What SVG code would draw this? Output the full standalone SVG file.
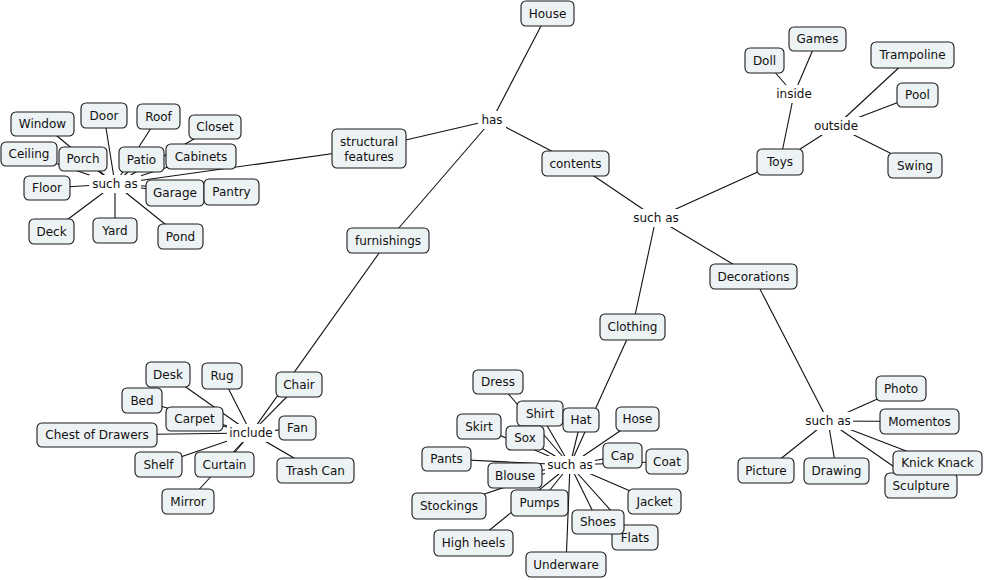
<svg xmlns="http://www.w3.org/2000/svg" width="985" height="580" viewBox="0 0 985 580">
<style>
  .n rect { fill: #edf2f4; stroke: #1a1a1a; stroke-width: 1.1; }
  text { font-family: "DejaVu Sans", Verdana, sans-serif; font-size: 12px; fill: #111; text-anchor: middle; }
  .lb rect { fill: #ffffff; stroke: none; }
  #connectors line { stroke: #111; stroke-width: 1.1; }
</style>
<rect x="0" y="0" width="985" height="580" fill="#ffffff"/>
<g id="connectors">
  <!-- has -->
  <line x1="492" y1="120" x2="547.5" y2="13.5"/>
  <line x1="492" y1="120" x2="369" y2="148.5"/>
  <line x1="492" y1="120" x2="575.5" y2="163.5"/>
  <line x1="492" y1="120" x2="388" y2="240.5"/>
  <!-- structural such as -->
  <line x1="115" y1="184" x2="369" y2="148.5"/>
  <line x1="115" y1="184" x2="42.5" y2="124"/>
  <line x1="115" y1="184" x2="104" y2="115.5"/>
  <line x1="115" y1="184" x2="158.5" y2="116.5"/>
  <line x1="115" y1="184" x2="215" y2="127"/>
  <line x1="115" y1="184" x2="29" y2="154"/>
  <line x1="115" y1="184" x2="83" y2="159"/>
  <line x1="115" y1="184" x2="141.5" y2="159.5"/>
  <line x1="115" y1="184" x2="201" y2="156.5"/>
  <line x1="115" y1="184" x2="47" y2="188"/>
  <line x1="115" y1="184" x2="175" y2="193"/>
  <line x1="115" y1="184" x2="231.5" y2="192"/>
  <line x1="115" y1="184" x2="51.5" y2="231.5"/>
  <line x1="115" y1="184" x2="115" y2="230.5"/>
  <line x1="115" y1="184" x2="180.5" y2="236.5"/>
  <!-- contents such as -->
  <line x1="656" y1="218" x2="575.5" y2="163.5"/>
  <line x1="656" y1="218" x2="780" y2="162"/>
  <line x1="656" y1="218" x2="753.5" y2="276.5"/>
  <line x1="656" y1="218" x2="632.5" y2="327"/>
  <!-- inside -->
  <line x1="794" y1="94" x2="780" y2="162"/>
  <line x1="794" y1="94" x2="817.5" y2="39"/>
  <line x1="794" y1="94" x2="764.5" y2="60.5"/>
  <!-- outside -->
  <line x1="836" y1="126" x2="780" y2="162"/>
  <line x1="836" y1="126" x2="912.5" y2="55"/>
  <line x1="836" y1="126" x2="917.5" y2="95"/>
  <line x1="836" y1="126" x2="915" y2="165.5"/>
  <!-- include -->
  <line x1="251" y1="433" x2="388" y2="240.5"/>
  <line x1="251" y1="433" x2="299" y2="384.5"/>
  <line x1="251" y1="433" x2="168" y2="374.5"/>
  <line x1="251" y1="433" x2="222" y2="376"/>
  <line x1="251" y1="433" x2="142" y2="400.5"/>
  <line x1="251" y1="433" x2="194.5" y2="419"/>
  <line x1="251" y1="433" x2="97" y2="435"/>
  <line x1="251" y1="433" x2="297.5" y2="428"/>
  <line x1="251" y1="433" x2="158.5" y2="464.5"/>
  <line x1="251" y1="433" x2="224.5" y2="464.5"/>
  <line x1="251" y1="433" x2="315.5" y2="470.5"/>
  <line x1="251" y1="433" x2="188" y2="501.5"/>
  <!-- clothing such as -->
  <line x1="570" y1="465" x2="632.5" y2="327"/>
  <line x1="570" y1="465" x2="498" y2="382"/>
  <line x1="570" y1="465" x2="540" y2="413.5"/>
  <line x1="570" y1="465" x2="581" y2="420"/>
  <line x1="570" y1="465" x2="637.5" y2="419"/>
  <line x1="570" y1="465" x2="479" y2="426.5"/>
  <line x1="570" y1="465" x2="525" y2="438"/>
  <line x1="570" y1="465" x2="446.5" y2="459"/>
  <line x1="570" y1="465" x2="622.5" y2="455.5"/>
  <line x1="570" y1="465" x2="667" y2="461.5"/>
  <line x1="570" y1="465" x2="515" y2="475.5"/>
  <line x1="570" y1="465" x2="449" y2="506"/>
  <line x1="570" y1="465" x2="539.5" y2="503"/>
  <line x1="570" y1="465" x2="654.5" y2="501.5"/>
  <line x1="570" y1="465" x2="598" y2="522"/>
  <line x1="570" y1="465" x2="635" y2="537.5"/>
  <line x1="570" y1="465" x2="473.5" y2="543"/>
  <line x1="570" y1="465" x2="566" y2="564.5"/>
  <!-- decorations such as -->
  <line x1="828" y1="421" x2="753.5" y2="276.5"/>
  <line x1="828" y1="421" x2="901" y2="388.5"/>
  <line x1="828" y1="421" x2="919.5" y2="421.5"/>
  <line x1="828" y1="421" x2="937.5" y2="463"/>
  <line x1="828" y1="421" x2="921" y2="485.5"/>
  <line x1="828" y1="421" x2="766" y2="470.5"/>
  <line x1="828" y1="421" x2="836.5" y2="471"/>
</g>

<!-- linking phrases -->
<g id="lbl-has" class="lb"><rect x="478" y="111" width="28" height="18"/><text x="492" y="124">has</text></g>
<g id="lbl-suchas-structure" class="lb"><rect x="89" y="175" width="52" height="18"/><text x="115" y="188">such as</text></g>
<g id="lbl-suchas-contents" class="lb"><rect x="630" y="209" width="52" height="18"/><text x="656" y="222">such as</text></g>
<g id="lbl-inside" class="lb"><rect x="773" y="85" width="42" height="18"/><text x="794" y="98">inside</text></g>
<g id="lbl-outside" class="lb"><rect x="811" y="117" width="50" height="18"/><text x="836" y="130">outside</text></g>
<g id="lbl-include" class="lb"><rect x="227" y="424" width="48" height="18"/><text x="251" y="437">include</text></g>
<g id="lbl-suchas-clothing" class="lb"><rect x="545" y="456" width="50" height="18"/><text x="570" y="469">such as</text></g>
<g id="lbl-suchas-deco" class="lb"><rect x="803" y="412" width="50" height="18"/><text x="828" y="425">such as</text></g>

<!-- main nodes -->
<g id="house" class="n"><rect x="521" y="1" width="53" height="25" rx="5"/><text x="547.5" y="17.5">House</text></g>
<g id="structural-features" class="n"><rect x="332" y="129" width="74" height="39" rx="5"/><text x="369" y="146">structural</text><text x="369" y="161">features</text></g>
<g id="contents" class="n"><rect x="542" y="151" width="67" height="25" rx="5"/><text x="575.5" y="167.5">contents</text></g>
<g id="furnishings" class="n"><rect x="347" y="228" width="82" height="25" rx="5"/><text x="388" y="244.5">furnishings</text></g>
<g id="toys" class="n"><rect x="757" y="149" width="46" height="26" rx="5"/><text x="780" y="166">Toys</text></g>
<g id="decorations" class="n"><rect x="710" y="264" width="87" height="25" rx="5"/><text x="753.5" y="280.5">Decorations</text></g>
<g id="clothing" class="n"><rect x="600" y="314" width="65" height="26" rx="5"/><text x="632.5" y="331">Clothing</text></g>

<!-- structural features -->
<g id="window" class="n"><rect x="11" y="112" width="63" height="24" rx="5"/><text x="42.5" y="128">Window</text></g>
<g id="door" class="n"><rect x="81" y="103" width="46" height="25" rx="5"/><text x="104" y="119.5">Door</text></g>
<g id="roof" class="n"><rect x="137" y="104" width="43" height="25" rx="5"/><text x="158.5" y="120.5">Roof</text></g>
<g id="closet" class="n"><rect x="189" y="115" width="52" height="24" rx="5"/><text x="215" y="131">Closet</text></g>
<g id="ceiling" class="n"><rect x="1" y="142" width="56" height="24" rx="5"/><text x="29" y="158">Ceiling</text></g>
<g id="porch" class="n"><rect x="59" y="147" width="48" height="24" rx="5"/><text x="83" y="163">Porch</text></g>
<g id="patio" class="n"><rect x="119" y="147" width="45" height="25" rx="5"/><text x="141.5" y="163.5">Patio</text></g>
<g id="cabinets" class="n"><rect x="166" y="144" width="70" height="25" rx="5"/><text x="201" y="160.5">Cabinets</text></g>
<g id="floor" class="n"><rect x="24" y="176" width="46" height="24" rx="5"/><text x="47" y="192">Floor</text></g>
<g id="garage" class="n"><rect x="146" y="180" width="58" height="26" rx="5"/><text x="175" y="197">Garage</text></g>
<g id="pantry" class="n"><rect x="204" y="179" width="55" height="26" rx="5"/><text x="231.5" y="196">Pantry</text></g>
<g id="deck" class="n"><rect x="29" y="219" width="45" height="25" rx="5"/><text x="51.5" y="235.5">Deck</text></g>
<g id="yard" class="n"><rect x="93" y="218" width="44" height="25" rx="5"/><text x="115" y="234.5">Yard</text></g>
<g id="pond" class="n"><rect x="158" y="224" width="45" height="25" rx="5"/><text x="180.5" y="240.5">Pond</text></g>

<!-- toys -->
<g id="games" class="n"><rect x="789" y="27" width="57" height="24" rx="5"/><text x="817.5" y="43">Games</text></g>
<g id="doll" class="n"><rect x="745" y="48" width="39" height="25" rx="5"/><text x="764.5" y="64.5">Doll</text></g>
<g id="trampoline" class="n"><rect x="871" y="42" width="83" height="26" rx="5"/><text x="912.5" y="59">Trampoline</text></g>
<g id="pool" class="n"><rect x="897" y="83" width="41" height="24" rx="5"/><text x="917.5" y="99">Pool</text></g>
<g id="swing" class="n"><rect x="888" y="153" width="54" height="25" rx="5"/><text x="915" y="169.5">Swing</text></g>

<!-- furnishings -->
<g id="desk" class="n"><rect x="146" y="362" width="44" height="25" rx="5"/><text x="168" y="378.5">Desk</text></g>
<g id="rug" class="n"><rect x="202" y="363" width="40" height="26" rx="5"/><text x="222" y="380">Rug</text></g>
<g id="chair" class="n"><rect x="276" y="372" width="46" height="25" rx="5"/><text x="299" y="388.5">Chair</text></g>
<g id="bed" class="n"><rect x="122" y="388" width="40" height="25" rx="5"/><text x="142" y="404.5">Bed</text></g>
<g id="carpet" class="n"><rect x="166" y="407" width="57" height="24" rx="5"/><text x="194.5" y="423">Carpet</text></g>
<g id="chest-of-drawers" class="n"><rect x="37" y="423" width="120" height="24" rx="5"/><text x="97" y="439">Chest of Drawers</text></g>
<g id="fan" class="n"><rect x="279" y="416" width="37" height="24" rx="5"/><text x="297.5" y="432">Fan</text></g>
<g id="shelf" class="n"><rect x="135" y="452" width="47" height="25" rx="5"/><text x="158.5" y="468.5">Shelf</text></g>
<g id="curtain" class="n"><rect x="195" y="452" width="59" height="25" rx="5"/><text x="224.5" y="468.5">Curtain</text></g>
<g id="trash-can" class="n"><rect x="277" y="458" width="77" height="25" rx="5"/><text x="315.5" y="474.5">Trash Can</text></g>
<g id="mirror" class="n"><rect x="162" y="489" width="52" height="25" rx="5"/><text x="188" y="505.5">Mirror</text></g>

<!-- clothing -->
<g id="dress" class="n"><rect x="473" y="370" width="50" height="24" rx="5"/><text x="498" y="386">Dress</text></g>
<g id="shirt" class="n"><rect x="517" y="401" width="46" height="25" rx="5"/><text x="540" y="417.5">Shirt</text></g>
<g id="hat" class="n"><rect x="563" y="408" width="36" height="24" rx="5"/><text x="581" y="424">Hat</text></g>
<g id="hose" class="n"><rect x="616" y="407" width="43" height="24" rx="5"/><text x="637.5" y="423">Hose</text></g>
<g id="skirt" class="n"><rect x="457" y="414" width="44" height="25" rx="5"/><text x="479" y="430.5">Skirt</text></g>
<g id="sox" class="n"><rect x="506" y="426" width="38" height="24" rx="5"/><text x="525" y="442">Sox</text></g>
<g id="pants" class="n"><rect x="422" y="447" width="49" height="24" rx="5"/><text x="446.5" y="463">Pants</text></g>
<g id="cap" class="n"><rect x="603" y="443" width="39" height="25" rx="5"/><text x="622.5" y="459.5">Cap</text></g>
<g id="coat" class="n"><rect x="646" y="449" width="42" height="25" rx="5"/><text x="667" y="465.5">Coat</text></g>
<g id="blouse" class="n"><rect x="488" y="463" width="54" height="25" rx="5"/><text x="515" y="479.5">Blouse</text></g>
<g id="stockings" class="n"><rect x="412" y="493" width="74" height="26" rx="5"/><text x="449" y="510">Stockings</text></g>
<g id="pumps" class="n"><rect x="511" y="490" width="57" height="26" rx="5"/><text x="539.5" y="507">Pumps</text></g>
<g id="jacket" class="n"><rect x="628" y="489" width="53" height="25" rx="5"/><text x="654.5" y="505.5">Jacket</text></g>
<g id="flats" class="n"><rect x="612" y="525" width="46" height="25" rx="5"/><text x="635" y="541.5">Flats</text></g>
<g id="shoes" class="n"><rect x="572" y="510" width="52" height="24" rx="5"/><text x="598" y="526">Shoes</text></g>
<g id="high-heels" class="n"><rect x="434" y="530" width="79" height="26" rx="5"/><text x="473.5" y="547">High heels</text></g>
<g id="underware" class="n"><rect x="526" y="552" width="80" height="25" rx="5"/><text x="566" y="568.5">Underware</text></g>

<!-- decorations -->
<g id="photo" class="n"><rect x="876" y="376" width="50" height="25" rx="5"/><text x="901" y="392.5">Photo</text></g>
<g id="momentos" class="n"><rect x="880" y="409" width="79" height="25" rx="5"/><text x="919.5" y="425.5">Momentos</text></g>
<g id="sculpture" class="n"><rect x="885" y="473" width="72" height="25" rx="5"/><text x="921" y="489.5">Sculpture</text></g>
<g id="knick-knack" class="n"><rect x="893" y="451" width="89" height="24" rx="5"/><text x="937.5" y="467">Knick Knack</text></g>
<g id="picture" class="n"><rect x="738" y="458" width="56" height="25" rx="5"/><text x="766" y="474.5">Picture</text></g>
<g id="drawing" class="n"><rect x="804" y="458" width="65" height="26" rx="5"/><text x="836.5" y="475">Drawing</text></g>
</svg>
